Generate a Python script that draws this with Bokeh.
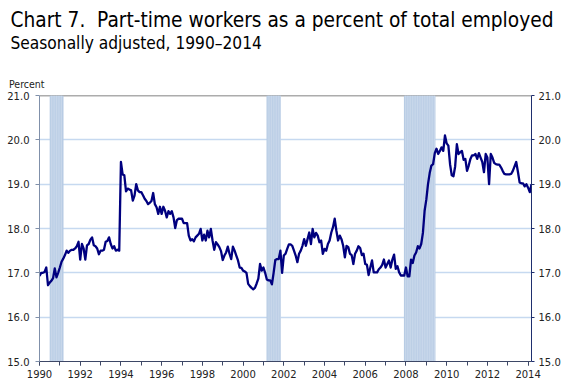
from bokeh.plotting import figure
from bokeh.layouts import column
from bokeh.models import Range1d, LinearAxis, FixedTicker, NumeralTickFormatter, Label, Span
from bokeh.embed import file_html
from bokeh.resources import INLINE

# Monthly values, Jan 1990 - Mar 2014 (percent)
values_1990s = [
    16.93, 17.00, 17.00, 17.02, 17.12, 16.72, 16.78, 16.82, 16.88, 17.10, 16.90, 17.00,
    17.12, 17.25, 17.32, 17.40, 17.50, 17.45, 17.50, 17.52, 17.52, 17.55, 17.60, 17.70,
    17.30, 17.65, 17.55, 17.30, 17.62, 17.65, 17.75, 17.80, 17.62, 17.60, 17.55, 17.42,
    17.50, 17.50, 17.52, 17.70, 17.72, 17.80, 17.65, 17.55, 17.60, 17.50, 17.52, 17.50,
    19.50, 19.22, 19.20, 18.84, 18.90, 18.88, 18.86, 18.63, 18.74, 19.00, 18.86, 18.82,
    18.82, 18.75, 18.67, 18.62, 18.55, 18.58, 18.62, 18.80, 18.55, 18.48, 18.33, 18.49,
    18.33, 18.49, 18.40, 18.25, 18.39, 18.33, 18.39, 18.25, 18.01, 18.19, 18.22, 18.22,
    18.22, 18.12, 18.12, 18.12, 17.84, 17.73, 17.76, 17.71, 17.80, 17.84, 17.88, 17.99,
    17.73, 17.86, 17.73, 17.95, 17.80, 17.99, 17.73, 17.52, 17.69, 17.64, 17.58, 17.49,
    17.29, 17.39, 17.46, 17.59, 17.43, 17.31, 17.59, 17.50, 17.39, 17.28, 17.12, 17.11,
]
values_2000s = [
    17.05, 17.03, 17.00, 16.75, 16.70, 16.66, 16.63, 16.66, 16.76, 16.87, 17.20, 17.05,
    17.12, 17.00, 16.85, 16.83, 16.83, 16.74, 17.00, 17.29, 17.31, 17.31, 17.50, 17.00,
    17.39, 17.43, 17.54, 17.64, 17.64, 17.61, 17.50, 17.39, 17.24, 17.43, 17.50, 17.61,
    17.76, 17.61, 17.76, 17.91, 17.65, 17.99, 17.80, 17.90, 17.84, 17.69, 17.73, 17.43,
    17.54, 17.50, 17.65, 17.73, 17.91, 18.03, 18.22, 17.95, 17.73, 17.84, 17.76, 17.61,
    17.35, 17.61, 17.58, 17.43, 17.40, 17.20, 17.43, 17.50, 17.60, 17.56, 17.40, 17.43,
    17.20, 17.18, 16.95, 17.12, 17.28, 17.01, 17.01, 17.01, 17.08, 17.12, 17.18, 17.30,
    17.12, 17.20, 17.28, 17.12, 17.30, 17.41, 17.09, 17.15, 17.01, 16.94, 16.94, 16.94,
    17.12, 16.92, 16.92, 17.30, 17.22, 17.39, 17.46, 17.60, 17.55, 17.65, 17.90, 18.40,
    18.65, 19.00, 19.25, 19.42, 19.45, 19.70, 19.80, 19.68, 19.75, 19.83, 19.75, 20.10,
]
values_2010s = [
    19.92, 19.87, 19.45, 19.20, 19.18, 19.40, 19.90, 19.68, 19.72, 19.75, 19.55, 19.57,
    19.30, 19.42, 19.57, 19.65, 19.65, 19.68, 19.57, 19.70, 19.60, 19.50, 19.27, 19.68,
    19.60, 19.00, 19.68, 19.60, 19.48, 19.45, 19.44, 19.44, 19.38, 19.30, 19.23, 19.22,
    19.22, 19.22, 19.23, 19.30, 19.40, 19.50, 19.28, 19.04, 19.02, 19.02, 18.95, 19.00,
    18.92, 18.82, 19.00,
]
start_year = 1990

# Recession periods (shaded)
rec_start = [1990.5, 2001.15, 2007.9]
rec_end = [1991.18, 2001.85, 2009.45]

x_ticks = list(range(1990, 2015, 2))
x_minor = list(range(1990, 2015))
y_ticks = [15, 16, 17, 18, 19, 20, 21]
grid_ticks = [16, 17, 18, 19, 20]

title_text = "Chart 7.\u00a0 Part-time workers as a percent of total employed"
subtitle_text = "Seasonally adjusted, 1990\u20132014"
unit_text = "Percent"

values = values_1990s + values_2000s + values_2010s
xs = [start_year + i / 12 for i in range(len(values))]

W = 563
HEAD_H = 89
MAIN_H = 390 - HEAD_H
X0, X1, Y0, Y1 = 1990, 2014.167, 15, 21

# ---- header with the titles (pixel coordinates, y downward)
head = figure(width=W, height=HEAD_H, x_range=Range1d(0, W), y_range=Range1d(HEAD_H, 0),
              output_backend="svg", toolbar_location=None, min_border=0,
              title_location=None, x_axis_location=None, y_axis_location=None)
head.grid.visible = False
head.outline_line_color = None
head.background_fill_color = "white"
head.border_fill_color = "white"

def add_label(fig, x, y, text, size, color):
    fig.add_layout(Label(x=x, y=y, text=text, text_font="DejaVu Sans Condensed",
                         text_font_size=size, text_color=color, text_baseline="alphabetic",
                         text_align="left"))

add_label(head, 10, 19, title_text, "20.7px", "#000000")
add_label(head, 10, 42, subtitle_text, "17.2px", "#000000")
add_label(head, 8.5, 83, unit_text, "10.5px", "#222222")

# ---- main chart
p = figure(width=W, height=MAIN_H,
           x_range=Range1d(X0, X1), y_range=Range1d(Y0, Y1),
           output_backend="svg", toolbar_location=None, title_location=None,
           min_border_left=39, min_border_right=32, min_border_top=6, min_border_bottom=29)
p.outline_line_color = None
p.background_fill_color = "white"
p.border_fill_color = "white"

for fig in (head, p):
    try:
        fig.frame_align = False
    except AttributeError:
        pass

p.xgrid.visible = False
p.ygrid.ticker = FixedTicker(ticks=grid_ticks)
p.ygrid.grid_line_color = "#c6d9f0"
p.ygrid.grid_line_width = 1.5

top_line = Span(location=Y1, dimension="width", line_color="#5a5a5a", line_width=1.5, level="underlay")
p.add_layout(top_line)

# recession shading
p.quad(left=rec_start, right=rec_end, bottom=Y0, top=Y1, fill_color="#b8cce4", line_color=None)
stripe_x = []
for s, e in zip(rec_start, rec_end):
    k = 1
    while s + k / 12 < e - 0.02:
        stripe_x.append(s + k / 12)
        k += 1
p.segment(x0=stripe_x, y0=Y0, x1=stripe_x, y1=Y1, line_color="#c9d8eb", line_width=1)

# data line
p.line(xs, values, line_color="#00007f", line_width=2.3, line_join="round")

xa = p.xaxis[0]
xa.ticker = FixedTicker(ticks=x_ticks, minor_ticks=x_minor)
xa.axis_line_color = "#3d4766"
xa.major_tick_line_color = "#3d4766"
xa.minor_tick_line_color = "#3d4766"
xa.major_tick_in = 0
xa.major_tick_out = 4
xa.minor_tick_in = 0
xa.minor_tick_out = 4
xa.major_label_text_font = "DejaVu Sans"
xa.major_label_text_font_size = "10px"
xa.major_label_text_color = "#222222"
xa.major_label_standoff = 4

def style_y(ax, line_color, tick_out, standoff):
    ax.ticker = FixedTicker(ticks=y_ticks)
    ax.formatter = NumeralTickFormatter(format="0.0")
    ax.axis_line_color = line_color
    ax.major_tick_line_color = line_color
    ax.major_tick_in = 0
    ax.major_tick_out = tick_out
    ax.minor_tick_line_color = None
    ax.major_label_text_font = "DejaVu Sans"
    ax.major_label_text_font_size = "10px"
    ax.major_label_text_color = "#222222"
    ax.major_label_standoff = standoff

style_y(p.yaxis[0], "#8090aa", 4, 6)
ra = LinearAxis()
style_y(ra, "#1f2f6e", 3, 4)
p.add_layout(ra, "right")

layout = column(head, p, spacing=0)
open("out.html", "w").write(file_html(layout, INLINE))
